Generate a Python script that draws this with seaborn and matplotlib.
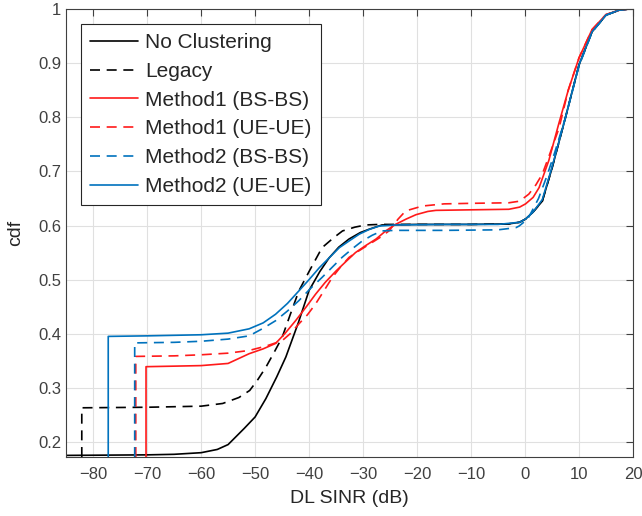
import numpy as np
import pandas as pd
import seaborn as sns
import matplotlib
matplotlib.use("Agg")
import matplotlib.pyplot as plt

# ------------------------------------------------------------
# CDF curves of DL SINR
# ------------------------------------------------------------
no_clust_x = [-85, -70, -65, -60, -57, -55, -53.6, -52, -50, -48, -46, -44.3, -42, -40, -38, -36.3,
              -34.5, -32.6, -30.5, -28.9, -26.5, -20, -10, -3, -1, 0.1, 1.5, 3.2, 5, 7.5, 10, 12.4,
              15, 17.4, 19, 20]
no_clust_y = [0.175, 0.176, 0.177, 0.18, 0.186, 0.195, 0.209, 0.225, 0.246, 0.28, 0.32, 0.357, 0.42,
              0.48, 0.515, 0.54, 0.56, 0.575, 0.587, 0.593, 0.601, 0.602, 0.602, 0.603, 0.606, 0.612,
              0.625, 0.645, 0.706, 0.8, 0.897, 0.958, 0.989, 0.998, 1.0, 1.0]

legacy_x = [-82.1, -82.1, -70, -60, -56, -53, -51, -49.5, -48, -46.5, -45, -43.5, -41.9, -40, -37.6,
            -35.5, -33.8, -31.5, -29.5, -27, -20, -10, -3, -1, 0.1, 1.5, 3.2, 5, 7.5, 10, 12.4, 15,
            17.4, 19, 20]
legacy_y = [0.172, 0.263, 0.264, 0.266, 0.271, 0.282, 0.295, 0.315, 0.338, 0.365, 0.393, 0.435, 0.479,
            0.515, 0.559, 0.577, 0.59, 0.597, 0.601, 0.602, 0.602, 0.602, 0.603, 0.606, 0.612, 0.625,
            0.645, 0.706, 0.8, 0.897, 0.958, 0.989, 0.998, 1.0, 1.0]

m1_bs_x = [-70.2, -70.2, -65, -60, -55, -51.1, -48.5, -46.2, -44.5, -42.5, -40.5, -38.8, -37, -35, -33,
           -31.4, -29.5, -27.6, -25.8, -24, -22, -20.2, -18, -16.5, -10, -3, -1, 0.1, 1.5, 2.6, 4.4,
           6.3, 8, 10, 12.4, 15, 17.4, 19, 20]
m1_bs_y = [0.172, 0.339, 0.340, 0.341, 0.345, 0.363, 0.372, 0.382, 0.40, 0.424, 0.45, 0.473, 0.495,
           0.516, 0.535, 0.55, 0.563, 0.575, 0.59, 0.602, 0.612, 0.62, 0.626, 0.628, 0.629, 0.630,
           0.634, 0.64, 0.652, 0.67, 0.72, 0.79, 0.85, 0.91, 0.962, 0.99, 0.998, 1.0, 1.0]

m1_ue_x = [-72.1, -72.1, -65, -60, -55, -51.1, -48, -45, -43.5, -41.9, -40.3, -38.8, -37.2, -35.7,
           -34.2, -32.6, -30.8, -28.9, -27, -25.2, -23.5, -22.1, -19, -15, -10, -3, -1, 0.7, 2, 3.2,
           4.5, 6.3, 8, 10, 12.4, 15, 17.4, 19, 20]
m1_ue_y = [0.172, 0.358, 0.359, 0.361, 0.364, 0.369, 0.377, 0.387, 0.40, 0.418, 0.435, 0.455, 0.48,
           0.504, 0.523, 0.541, 0.553, 0.565, 0.577, 0.59, 0.612, 0.627, 0.636, 0.64, 0.641, 0.642,
           0.645, 0.658, 0.675, 0.695, 0.73, 0.78, 0.85, 0.91, 0.962, 0.99, 0.998, 1.0, 1.0]

m2_bs_x = [-72.3, -72.3, -65, -60, -55, -51.1, -48.5, -46.2, -44, -41.9, -39.8, -37.6, -35.7, -33.9,
           -32, -30.2, -28.3, -26.5, -24, -15, -5, -1.7, -1.1, 0.5, 1.3, 2.5, 4, 5.5, 7.5, 10, 12.4,
           15, 17.4, 19, 20]
m2_bs_y = [0.172, 0.383, 0.384, 0.386, 0.39, 0.396, 0.41, 0.424, 0.442, 0.461, 0.483, 0.504, 0.523,
           0.541, 0.557, 0.571, 0.582, 0.59, 0.591, 0.591, 0.592, 0.596, 0.599, 0.612, 0.627, 0.65,
           0.69, 0.735, 0.8, 0.895, 0.957, 0.989, 0.998, 1.0, 1.0]

m2_ue_x = [-77.2, -77.2, -70, -65, -60, -55, -51.1, -48.5, -46.2, -44, -41.9, -40, -38.1, -36.2, -34.4,
           -32.5, -30.7, -28.8, -27, -24, -15, -5, -1, 0.1, 1.5, 3.2, 5, 7.5, 10, 12.4, 15, 17.4,
           19, 20]
m2_ue_y = [0.172, 0.395, 0.396, 0.397, 0.398, 0.401, 0.409, 0.42, 0.436, 0.456, 0.479, 0.50, 0.522,
           0.541, 0.559, 0.572, 0.584, 0.593, 0.599, 0.601, 0.602, 0.602, 0.606, 0.612, 0.625, 0.648,
           0.708, 0.8, 0.897, 0.958, 0.989, 0.998, 1.0, 1.0]

series = [
    ("No Clustering", no_clust_x, no_clust_y, "black", "-"),
    ("Legacy", legacy_x, legacy_y, "black", (0, (6, 4))),
    ("Method1 (BS-BS)", m1_bs_x, m1_bs_y, "#ff1a1a", "-"),
    ("Method1 (UE-UE)", m1_ue_x, m1_ue_y, "#ff1a1a", (0, (6, 4))),
    ("Method2 (BS-BS)", m2_bs_x, m2_bs_y, "#0072BD", (0, (6, 4))),
    ("Method2 (UE-UE)", m2_ue_x, m2_ue_y, "#0072BD", "-"),
]

x_ticks = [-80, -70, -60, -50, -40, -30, -20, -10, 0, 10, 20]
y_ticks = [0.2, 0.3, 0.4, 0.5, 0.6, 0.7, 0.8, 0.9, 1.0]
y_tick_labels = ["0.2", "0.3", "0.4", "0.5", "0.6", "0.7", "0.8", "0.9", "1"]

sns.set_style("white")
plt.rcParams['font.family'] = ['Liberation Sans', 'DejaVu Sans']

fig = plt.figure(figsize=(6.42, 5.16), dpi=100)
ax = fig.add_axes([0.103, 0.1143, 0.883, 0.868])

for name, xs, ys, col, ls in series:
    df = pd.DataFrame({"x": xs, "y": ys})
    sns.lineplot(data=df, x="x", y="y", sort=False, estimator=None, ax=ax,
                 color=col, linestyle=ls, linewidth=1.2, label=name)

ax.set_xlim(-85, 20)
ax.set_ylim(0.172, 1.0)
ax.set_xticks(x_ticks)
ax.set_yticks(y_ticks)
ax.set_yticklabels(y_tick_labels)
ax.grid(True, color="#e0e0e0", linewidth=0.8)
ax.set_axisbelow(True)
ax.tick_params(direction="in", length=5, colors="#404040", labelsize=12,
               top=True, right=True, width=0.8)
ax.tick_params(axis="x", pad=7)
for sp in ax.spines.values():
    sp.set_color("#404040")
    sp.set_linewidth(0.8)
ax.set_xlabel("DL SINR (dB)", fontsize=14, color="#262626", labelpad=6)
ax.set_ylabel("cdf", fontsize=14, color="#262626", labelpad=10)

leg = ax.legend(loc="upper left", fontsize=15, frameon=True, fancybox=False,
                edgecolor="#262626", framealpha=1, handlelength=2.3, borderaxespad=0.7,
                labelspacing=0.47, handletextpad=0.35, borderpad=0.45)
leg.get_frame().set_linewidth(0.8)

plt.savefig("out.png", dpi=100)
